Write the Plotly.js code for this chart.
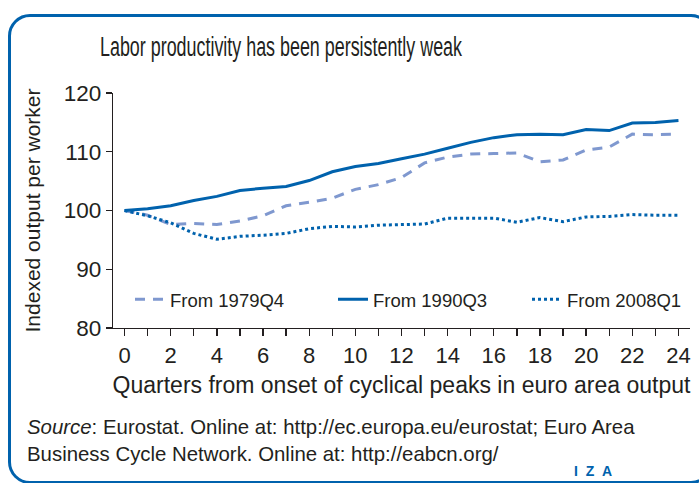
<!DOCTYPE html>
<html>
<head>
<meta charset="utf-8">
<script src="https://cdn.plot.ly/plotly-3.0.1.min.js"></script>
<style>
  html, body { margin: 0; padding: 0; background: #ffffff; overflow: hidden; }
  #wrap { position: relative; width: 699px; height: 483px; overflow: hidden; }
  #chart { position: absolute; left: 0; top: 0; width: 699px; height: 483px; }
  #frame { position: absolute; left: 8px; top: 14px; width: 699px; height: 464px;
           border: 3px solid #0062AD; border-radius: 22px; pointer-events: none; }
</style>
</head>
<body>
<div id="wrap">
  <div id="chart"></div>
  <div id="frame"></div>
</div>
<script>
// Quarters from onset of cyclical peak
const quarters = [0,1,2,3,4,5,6,7,8,9,10,11,12,13,14,15,16,17,18,19,20,21,22,23,24];

// Indexed output per worker (peak = 100)
const from1979Q4 = [100,99.2,97.6,97.8,97.6,98.2,99.1,100.8,101.4,102.1,103.6,104.4,105.6,108.1,109.1,109.6,109.7,109.8,108.3,108.6,110.3,110.8,113.0,112.9,113.0];
const from1990Q3 = [100,100.3,100.8,101.7,102.4,103.4,103.8,104.1,105.1,106.6,107.5,108.0,108.8,109.6,110.6,111.6,112.4,112.9,113.0,112.9,113.8,113.6,114.9,115.0,115.3];
const from2008Q1 = [100,99.1,97.9,96.1,95.1,95.6,95.8,96.1,96.9,97.3,97.2,97.5,97.6,97.7,98.7,98.7,98.7,98.0,98.8,98.1,98.9,99.0,99.3,99.2,99.2];

const seriesNames = ['From 1979Q4','From 1990Q3','From 2008Q1'];
const xTickVals = [0,2,4,6,8,10,12,14,16,18,20,22,24];
const yTickVals = [80,90,100,110,120];

const titleText = 'Labor productivity has been persistently weak';
const xTitle = 'Quarters from onset of cyclical peaks in euro area output';
const yTitle = 'Indexed output per worker';
const sourceText = '<i>Source</i>: Eurostat. Online at: http://ec.europa.eu/eurostat; Euro Area<br>Business Cycle Network. Online at: http://eabcn.org/';
const logoText = 'I\u00a0\u00a0Z\u00a0\u00a0A';

const dark = '#0062AD';
const light = '#7F98CF';
const ink = '#231F20';
const FONT = '"Liberation Sans", Arial, sans-serif';

const traces = [
  {x: quarters, y: from1979Q4, name: seriesNames[0], type: 'scatter', mode: 'lines', legend: 'legend',
   line: {color: light, width: 3, dash: '10px,8px'}},
  {x: quarters, y: from1990Q3, name: seriesNames[1], type: 'scatter', mode: 'lines', legend: 'legend2',
   line: {color: dark, width: 3}},
  {x: quarters, y: from2008Q1, name: seriesNames[2], type: 'scatter', mode: 'lines', legend: 'legend3',
   line: {color: dark, width: 3, dash: '3px,3px'}}
];

function legendAt(xFrac) {
  return {orientation: 'h', x: xFrac, xanchor: 'left', y: 0.12, yanchor: 'middle',
          bgcolor: 'rgba(0,0,0,0)', font: {size: 18.5, color: ink}};
}

const layout = {
  width: 699, height: 483,
  margin: {l: 113, r: 9, t: 93, b: 155},
  paper_bgcolor: '#ffffff', plot_bgcolor: '#ffffff',
  font: {family: FONT, color: ink, size: 16},
  showlegend: true,
  title: {text: titleText, font: {family: FONT, size: 27, color: ink},
          xref: 'container', yref: 'container', x: 100/699, xanchor: 'left', y: 1 - 47/483, yanchor: 'middle'},
  xaxis: {range: [-0.5, 24.5], tickvals: xTickVals, ticktext: xTickVals.map(String),
          showgrid: false, zeroline: false, showline: true, linecolor: ink, linewidth: 1.3,
          ticks: 'outside', ticklen: 7, tickwidth: 1.3, tickcolor: ink,
          minor: {dtick: 1, ticks: 'outside', ticklen: 7, tickwidth: 1.3, tickcolor: ink},
          tickfont: {size: 22, color: ink},
          title: {text: xTitle, font: {size: 23, color: ink}, standoff: 10}},
  yaxis: {range: [80, 120], tickvals: yTickVals, ticktext: yTickVals.map(String),
          showgrid: false, zeroline: false, showline: true, linecolor: ink, linewidth: 1.3,
          ticks: 'outside', ticklen: 6, tickwidth: 1.3, tickcolor: ink,
          tickfont: {size: 22.5, color: ink},
          title: {text: yTitle, font: {size: 21, color: ink}, standoff: 17}},
  legend: legendAt(17/577),
  legend2: legendAt(220/577),
  legend3: legendAt(414/577),
  annotations: [
    {text: sourceText, xref: 'paper', yref: 'paper', x: (25-113)/577, y: -(440.5-328)/235,
     xanchor: 'left', yanchor: 'middle', align: 'left', showarrow: false,
     font: {size: 20.4, color: ink}},
    {text: '<b>' + logoText + '</b>', xref: 'paper', yref: 'paper', x: (593-113)/577, y: -(471-328)/235,
     xanchor: 'center', yanchor: 'middle', showarrow: false,
     font: {size: 14, color: dark}}
  ]
};

Plotly.newPlot('chart', traces, layout, {staticPlot: true, displayModeBar: false}).then(function (gd) {
  // the reference title is set in a condensed face; compress the real text to its measured width
  const t = gd.querySelector('.gtitle');
  if (t) {
    t.setAttribute('textLength', 362);
    t.setAttribute('lengthAdjust', 'spacingAndGlyphs');
  }
});
</script>
</body>
</html>
